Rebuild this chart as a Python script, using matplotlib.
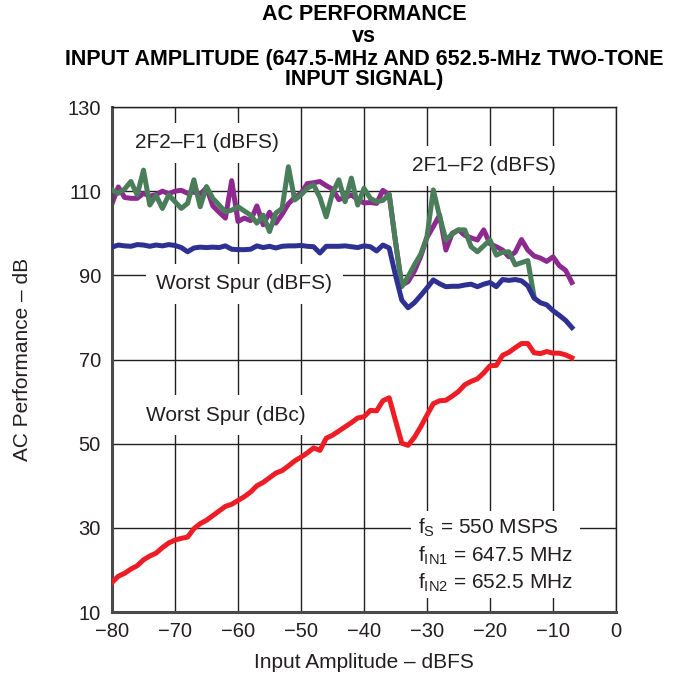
import numpy as np
import matplotlib
matplotlib.use("Agg")
import matplotlib.pyplot as plt
from matplotlib.patches import Rectangle

plt.rcParams['font.family'] = ['Liberation Sans', 'DejaVu Sans']
plt.rcParams['mathtext.fontset'] = 'custom'
plt.rcParams['mathtext.rm'] = 'Liberation Sans'
plt.rcParams['mathtext.it'] = 'Liberation Sans:italic'

# Input amplitude (dBFS)
amp = np.arange(-80, -6)          # -80 .. -7
amp_green = np.arange(-80, -12)   # -80 .. -13

spur_dbc = [17.0, 18.5, 19.2, 20.2, 21.0, 22.4, 23.3, 24.0, 25.3, 26.4,
            27.1, 27.5, 27.8, 29.8, 31.0, 31.8, 32.9, 34.0, 35.1, 35.6,
            36.5, 37.4, 38.5, 40.0, 40.8, 41.9, 43.0, 43.6, 44.7, 45.9,
            46.8, 47.8, 49.0, 48.4, 51.3, 52.0, 53.0, 54.0, 55.0, 56.1,
            56.4, 57.9, 57.8, 60.2, 60.9, 55.5, 50.1, 49.6, 51.5, 54.0,
            56.8, 59.5, 60.2, 60.3, 61.3, 62.4, 64.0, 64.8, 65.4, 66.8,
            68.5, 68.6, 71.0, 71.7, 72.8, 73.8, 73.8, 71.6, 71.4, 71.9,
            71.5, 71.5, 71.1, 70.4]

spur_dbfs = [96.7, 97.2, 97.0, 96.9, 97.3, 97.2, 96.9, 97.2, 97.0, 97.3,
             97.1, 96.6, 95.6, 96.5, 96.7, 96.6, 96.7, 96.6, 97.0, 96.2,
             96.1, 96.1, 96.2, 97.0, 96.6, 96.9, 96.5, 96.9, 97.0, 97.0,
             97.1, 96.9, 96.8, 95.3, 96.9, 96.9, 96.9, 97.0, 96.8, 96.6,
             97.0, 96.8, 95.8, 97.2, 96.5, 90.0, 84.1, 82.3, 83.5, 85.2,
             87.0, 88.9, 88.0, 87.3, 87.4, 87.4, 87.7, 87.9, 87.3, 87.9,
             88.3, 87.3, 89.0, 88.8, 89.0, 88.7, 87.5, 84.6, 83.5, 83.0,
             81.6, 80.5, 79.3, 77.6]

im3_2f2_f1 = [107.0, 111.0, 108.5, 108.3, 108.3, 109.5, 108.8, 109.2, 110.0, 109.4,
              110.0, 110.2, 109.5, 109.8, 109.3, 110.8, 106.5, 105.0, 103.6, 112.5,
              102.8, 103.6, 103.0, 106.5, 102.0, 105.0, 102.4, 104.5, 107.0, 108.5,
              109.5, 111.8, 112.0, 112.3, 111.3, 110.5, 108.0, 108.5, 109.1, 108.0,
              107.2, 107.3, 107.1, 110.2, 109.1, 98.0, 87.7, 88.5, 91.0, 94.5,
              99.0, 101.6, 104.3, 96.0, 100.0, 100.8, 99.5, 98.9, 98.4, 100.8,
              97.5, 96.8, 96.0, 94.4, 95.5, 98.5, 96.0, 94.6, 94.1, 93.3,
              94.4, 92.3, 91.2, 88.3]

im3_2f1_f2 = [110.3, 109.5, 110.5, 112.3, 109.1, 115.0, 106.7, 109.0, 105.9, 109.1,
              107.5, 105.9, 107.1, 112.7, 106.3, 111.1, 108.3, 106.7, 105.1, 105.5,
              106.3, 105.3, 104.3, 102.4, 104.3, 100.4, 104.8, 105.9, 115.8, 107.9,
              109.1, 110.7, 111.5, 108.5, 103.9, 109.5, 112.7, 107.5, 113.1, 106.7,
              110.7, 108.3, 107.5, 107.8, 109.3, 98.0, 87.3, 89.7, 92.5, 95.0,
              99.2, 110.3, 104.0, 98.4, 99.8, 100.8, 100.8, 96.8, 95.6, 97.0,
              98.4, 94.8, 95.5, 95.6, 92.5, 93.0, 93.5, 84.9]

title_lines = ['AC PERFORMANCE', 'vs',
               'INPUT AMPLITUDE (647.5-MHz AND 652.5-MHz TWO-TONE',
               'INPUT SIGNAL)']

cond_lines = [r'f$_\mathrm{S}$ = 550 MSPS',
              r'f$_\mathrm{IN1}$ = 647.5 MHz',
              r'f$_\mathrm{IN2}$ = 652.5 MHz']

W, H = 676, 681
fig = plt.figure(figsize=(W / 100, H / 100), dpi=100)
ax = fig.add_axes([112 / W, 1 - 612 / H, 504 / W, 505 / H])

lw = 3.6
ax.plot(amp, im3_2f2_f1, color='#8e2a8f', lw=lw, solid_joinstyle='round', zorder=2)
ax.plot(amp_green, im3_2f1_f2, color='#4a7d5a', lw=lw, solid_joinstyle='round', zorder=3)
ax.plot(amp, spur_dbfs, color='#2e3192', lw=lw, solid_joinstyle='round', zorder=3)
ax.plot(amp, spur_dbc, color='#ee1c25', lw=lw, solid_joinstyle='round', zorder=3)

ax.set_xlim(-80, 0)
ax.set_ylim(10, 130)
ax.set_xticks(np.arange(-80, 1, 10))
ax.set_yticks(np.arange(10, 131, 20))
ax.set_xticklabels([str(v).replace('-', '\u2212') for v in range(-80, 1, 10)])
ax.tick_params(length=0, labelsize=14.5, colors='#231f20')
ax.tick_params(axis='y', pad=8)
ax.tick_params(axis='x', pad=7)
ax.set_axisbelow(True)
ax.grid(True, color='#231f20', lw=1.0)

for side in ['top', 'right']:
    ax.spines[side].set_linewidth(1.0)
    ax.spines[side].set_color('#231f20')
for side in ['left', 'bottom']:
    ax.spines[side].set_linewidth(2.2)
    ax.spines[side].set_color('#4a4a4a')

ax.set_xlabel('Input Amplitude \u2013 dBFS', fontsize=15, color='#231f20')
ax.set_ylabel('AC Performance \u2013 dB', fontsize=15, color='#231f20')
ax.xaxis.set_label_coords(0.5, (612 - 663) / 505)
ax.xaxis.label.set_va('center')
ax.yaxis.set_label_coords((22 - 112) / 504, 0.5)
ax.yaxis.label.set_va('center')

for line, ypx in zip(title_lines, [15, 37, 59, 79]):
    fig.text(364 / W, 1 - ypx / H, line, ha='center', va='center',
             fontsize=15.5, fontweight='bold', color='black')

box = dict(facecolor='white', edgecolor='none', boxstyle='square,pad=0.5')
lbl = dict(fontsize=15, color='#231f20', va='center', ha='left', bbox=box, zorder=1.5)
ax.text(-76.3, 121.5, '2F2\u2013F1 (dBFS)', **lbl)
ax.text(-32.4, 116.0, '2F1\u2013F2 (dBFS)', **lbl)
ax.text(-73.0, 88.0, 'Worst Spur (dBFS)', **lbl)
ax.text(-74.6, 56.8, 'Worst Spur (dBc)', **lbl)

# conditions block: white patch hides the grid behind the three lines
ax.add_patch(Rectangle((-32.6, 13.3), 26.9, 20.7, facecolor='white',
                       edgecolor='none', zorder=1.5))
for line, yv in zip(cond_lines, [30.0, 23.3, 16.9]):
    ax.text(-31.4, yv, line, fontsize=15, color='#231f20', va='center', ha='left',
            zorder=1.6)

fig.savefig('out.png', dpi=100, facecolor='white')
